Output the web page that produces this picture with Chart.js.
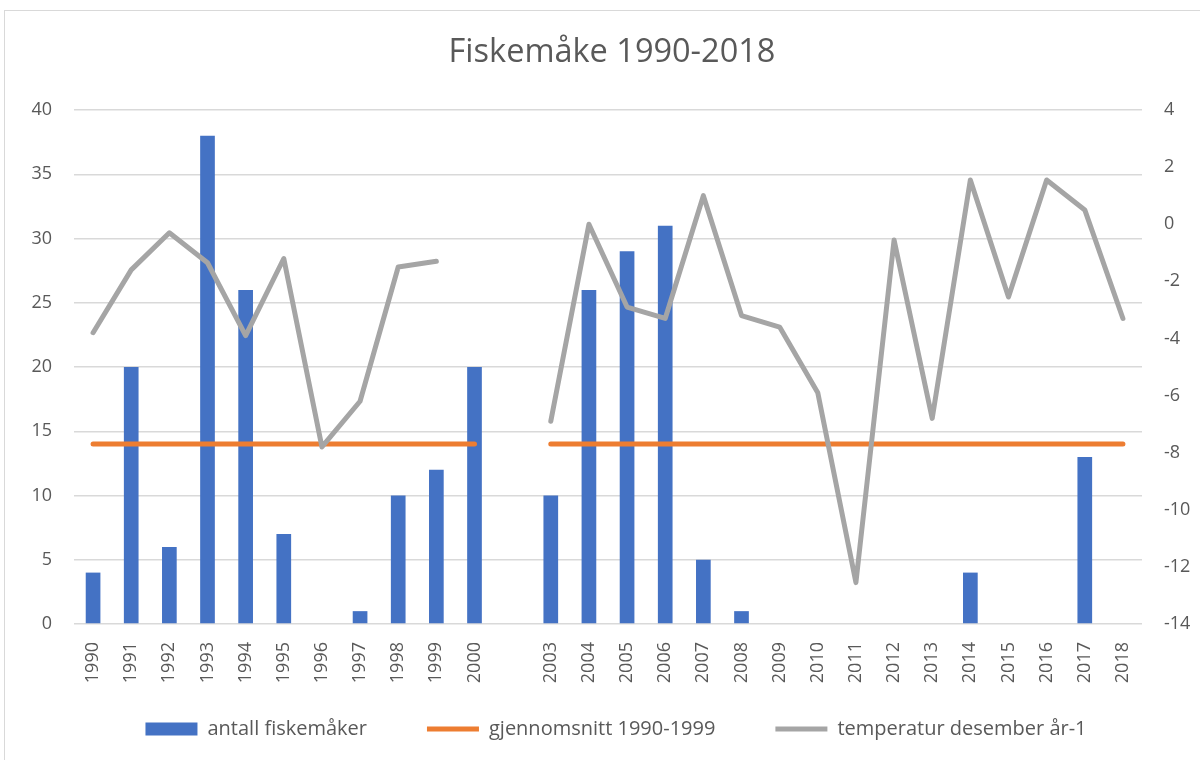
<!DOCTYPE html>
<html>
<head>
<meta charset="utf-8">
<script src="https://cdn.jsdelivr.net/npm/chart.js@4/dist/chart.umd.min.js"></script>
<style>
  html, body { margin: 0; padding: 0; background: #fff; overflow: hidden; }
  #frame { position: absolute; left: 4px; top: 10px; width: 1260px; height: 820px; border: 1.5px solid #d9d9d9; box-sizing: border-box; }
  #chart { position: absolute; left: 0; top: 0; }
</style>
</head>
<body>
<div id="frame"></div>
<canvas id="chart" width="1200" height="760"></canvas>
<script>
// categories (one empty slot between 2000 and 2003)
var years = ['1990', '1991', '1992', '1993', '1994', '1995', '1996', '1997', '1998', '1999', '2000', '',
  '2003', '2004', '2005', '2006', '2007', '2008', '2009', '2010', '2011', '2012', '2013', '2014', '2015', '2016', '2017', '2018'];

var antall = [4, 20, 6, 38, 26, 7, 0, 1, 10, 12, 20, null,
  10, 26, 29, 31, 5, 1, 0, 0, 0, 0, 0, 4, 0, 0, 13, 0];

var snitt = [14, 14, 14, 14, 14, 14, 14, 14, 14, 14, 14, null,
  14, 14, 14, 14, 14, 14, 14, 14, 14, 14, 14, 14, 14, 14, 14, 14];

var temperatur = [-3.8, -1.6, -0.3, -1.35, -3.9, -1.2, -7.8, -6.2, -1.5, -1.3, null, null,
  -6.9, 0.0, -2.9, -3.3, 1.0, -3.2, -3.6, -5.9, -12.55, -0.55, -6.8, 1.55, -2.55, 1.55, 0.5, -3.3];

var textColor = '#595959';
var gridColor = '#d9d9d9';
var tickFont = { family: 'Open Sans', size: 18 };

// move a layout box while it draws (the original frame is wider than the page)
// only top moves up, bottom stays, so the legend's clip box still holds the text
function shiftDraw(box, dx, dy) {
  var draw = box.draw;
  box.draw = function () {
    this.left += dx; this.right += dx; this.top += dy;
    draw.apply(this, arguments);
    this.left -= dx; this.right -= dx; this.top -= dy;
  };
}

// wide gaps between legend items, but a short legend box
var boxTweaks = {
  id: 'boxTweaks',
  afterInit: function (chart) {
    var legend = chart.legend;
    var fit = legend.fit;
    legend.fit = function () { fit.call(this); this.height = 48; };
    shiftDraw(legend, 16, -41);
    shiftDraw(chart.titleBlock, 12, 0);
  },
};

new Chart(document.getElementById('chart'), {
  type: 'bar',
  plugins: [boxTweaks],
  data: {
    labels: years,
    datasets: [
      {
        type: 'bar',
        label: 'antall fiskemåker',
        data: antall,
        backgroundColor: '#4472c4',
        borderWidth: 0,
        barPercentage: 0.385,
        categoryPercentage: 1,
        pointStyle: 'rect',
        yAxisID: 'y',
        order: 2,
      },
      {
        type: 'line',
        label: 'gjennomsnitt 1990-1999',
        data: snitt,
        borderColor: '#ed7d31',
        backgroundColor: '#ed7d31',
        borderWidth: 5,
        borderCapStyle: 'round',
        pointRadius: 0,
        pointStyle: 'line',
        fill: false,
        yAxisID: 'y',
        order: 1,
      },
      {
        type: 'line',
        label: 'temperatur desember år-1',
        data: temperatur,
        borderColor: '#a5a5a5',
        backgroundColor: '#a5a5a5',
        borderWidth: 5,
        borderCapStyle: 'round',
        borderJoinStyle: 'round',
        pointRadius: 0,
        pointStyle: 'line',
        fill: false,
        yAxisID: 'y1',
        order: 0,
      },
    ],
  },
  options: {
    responsive: false,
    animation: false,
    layout: { padding: { top: 33.5, left: 0, right: 0, bottom: 12 } },
    plugins: {
      title: {
        display: true,
        text: 'Fiskemåke 1990-2018',
        color: textColor,
        font: { family: 'Open Sans', size: 32.5, weight: 'normal' },
        padding: { top: 0, bottom: 37.5 },
      },
      legend: {
        position: 'bottom',
        labels: {
          usePointStyle: true,
          pointStyleWidth: 52,
          boxHeight: 13,
          padding: 60,
          color: textColor,
          font: { family: 'Open Sans', size: 20 },
          sort: function (a, b) { return a.datasetIndex - b.datasetIndex; },
        },
      },
      tooltip: { enabled: false },
    },
    scales: {
      x: {
        grid: { display: false },
        border: { display: false },
        ticks: {
          color: textColor,
          font: tickFont,
          minRotation: 90,
          maxRotation: 90,
          autoSkip: false,
          padding: 10,
        },
        afterFit: function (scale) { scale.height = 76; },
      },
      y: {
        position: 'left',
        min: 0,
        max: 40,
        ticks: { stepSize: 5, color: textColor, font: tickFont, padding: 22 },
        grid: { color: gridColor, lineWidth: 1.5, drawTicks: false },
        border: { display: false },
        afterFit: function (scale) { scale.width = 74; },
      },
      y1: {
        position: 'right',
        min: -14,
        max: 4,
        ticks: { stepSize: 2, color: textColor, font: tickFont, padding: 22 },
        grid: { drawOnChartArea: false, drawTicks: false },
        border: { display: false },
        afterFit: function (scale) { scale.width = 58; },
      },
    },
  },
});
</script>
</body>
</html>
